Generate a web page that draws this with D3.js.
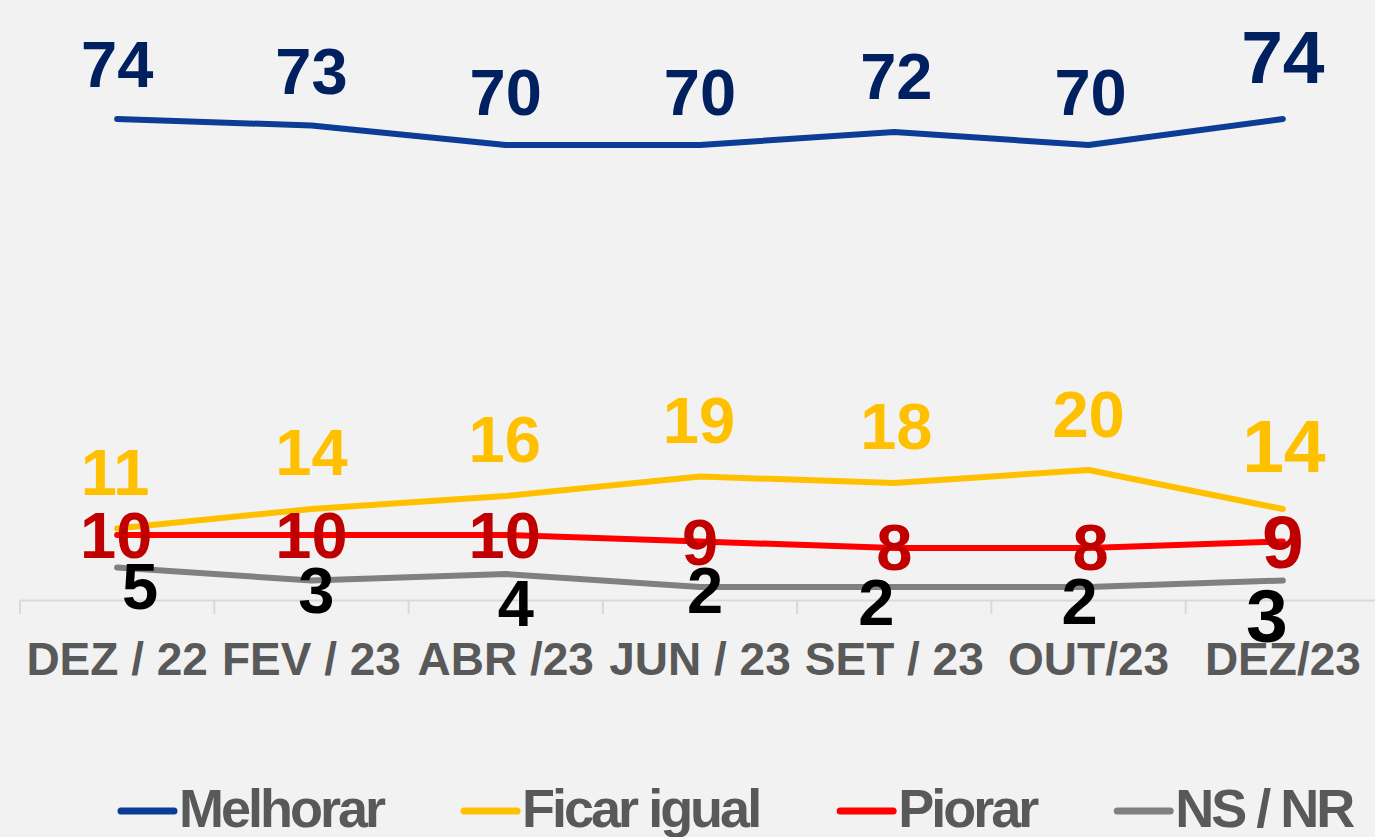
<!DOCTYPE html>
<html>
<head>
<meta charset="utf-8">
<script src="https://cdn.jsdelivr.net/npm/d3@7"></script>
<style>
  body { margin: 0; background: #f2f2f2; }
  svg { display: block; font-family: "Liberation Sans", Arial, Helvetica, sans-serif; }
</style>
</head>
<body>
<svg id="chart" width="1375" height="837"></svg>
<script>
const CATEGORIES = ["DEZ / 22", "FEV / 23", "ABR /23", "JUN / 23", "SET / 23", "OUT/23", "DEZ/23"];
const MELHORAR = [74, 73, 70, 70, 72, 70, 74];
const FICAR_IGUAL = [11, 14, 16, 19, 18, 20, 14];
const PIORAR = [10, 10, 10, 9, 8, 8, 9];
const NS_NR = [5, 3, 4, 2, 2, 2, 3];
const SERIES_NAMES = ["Melhorar", "Ficar igual", "Piorar", "NS / NR"];

// label nudges (pixels, relative to the point) - labels were hand placed in the original
const LABEL_DX = [
  [0, 0, 0, 0, 2, 2, 0],
  [-2, 0, -1, -1, 2, 0, 1],
  [-1, 0, -1, 0, 0, 2, 0],
  [23, 5, 10, 5, -18, -9, -16],
];
const LABEL_DY = [
  [-32, -32, -30, -30, -33, -30, -36],
  [-34, -34, -34, -34, -34, -33, -37],
  [23, 23, 23, 23, 22, 22, 26],
  [41, 32, 52, 26, 38, 37, 61],
];
const LINE_COLORS = ["#0b3c96", "#ffc000", "#ff0000", "#808080"];
const LABEL_COLORS = ["#002060", "#ffc000", "#c00000", "#000000"];

const series = [MELHORAR, FICAR_IGUAL, PIORAR, NS_NR].map((values, i) => ({
  name: SERIES_NAMES[i],
  values: values,
  index: i,
}));

const svg = d3.select("#chart");
svg.append("rect").attr("width", 1375).attr("height", 837).attr("fill", "#f2f2f2");

const x = d3.scaleBand().domain(CATEGORIES).range([20, 1380]).padding(0);
const y = d3.scaleLinear().domain([0, 80]).range([600, 80]);
const cx = (c) => x(c) + x.bandwidth() / 2;

// x axis
const axis = svg
  .append("g")
  .attr("transform", "translate(0,600)")
  .call(d3.axisBottom(x).tickSize(0).tickSizeOuter(0));
axis.select(".domain").attr("stroke", "#d9d9d9").attr("stroke-width", 2);
axis
  .selectAll(".tick text")
  .attr("y", 75)
  .attr("dy", 0)
  .attr("fill", "#595959")
  .style("font-size", "46px")
  .style("font-weight", "bold")
  .style("font-family", '"Liberation Sans", Arial, sans-serif');

// boundary tick marks
svg
  .append("g")
  .selectAll("line")
  .data(CATEGORIES)
  .join("line")
  .attr("x1", (d) => x(d))
  .attr("x2", (d) => x(d))
  .attr("y1", 600)
  .attr("y2", 614)
  .attr("stroke", "#d9d9d9")
  .attr("stroke-width", 2);

// lines
const line = d3
  .line()
  .x((d, i) => cx(CATEGORIES[i]))
  .y((d) => y(d));

svg
  .append("g")
  .selectAll("path")
  .data(series)
  .join("path")
  .attr("d", (s) => line(s.values))
  .attr("fill", "none")
  .attr("stroke", (s) => LINE_COLORS[s.index])
  .attr("stroke-width", 6)
  .attr("stroke-linecap", "round")
  .attr("stroke-linejoin", "round");

// data labels
series.forEach((s) => {
  svg
    .append("g")
    .selectAll("text")
    .data(s.values)
    .join("text")
    .attr("x", (d, i) => cx(CATEGORIES[i]) + LABEL_DX[s.index][i])
    .attr("y", (d, i) => y(d) + LABEL_DY[s.index][i])
    .attr("text-anchor", "middle")
    .attr("fill", LABEL_COLORS[s.index])
    .style("font-weight", "bold")
    .style("font-size", (d, i) => (i === s.values.length - 1 ? "75px" : "65px"))
    .text((d) => d);
});

// legend
const legend = svg.append("g").attr("transform", "translate(118,0)");
let lx = 0;
series.forEach((s) => {
  legend
    .append("line")
    .attr("x1", lx + 3)
    .attr("x2", lx + 56)
    .attr("y1", 811)
    .attr("y2", 811)
    .attr("stroke", LINE_COLORS[s.index])
    .attr("stroke-width", 7)
    .attr("stroke-linecap", "round");
  const t = legend
    .append("text")
    .attr("x", lx + 61)
    .attr("y", 827)
    .attr("fill", "#595959")
    .style("font-size", "54px")
    .style("font-weight", "bold")
    .style("letter-spacing", "-3px")
    .text(s.name);
  lx += 61 + t.node().getComputedTextLength() + 78;
});
</script>
</body>
</html>
